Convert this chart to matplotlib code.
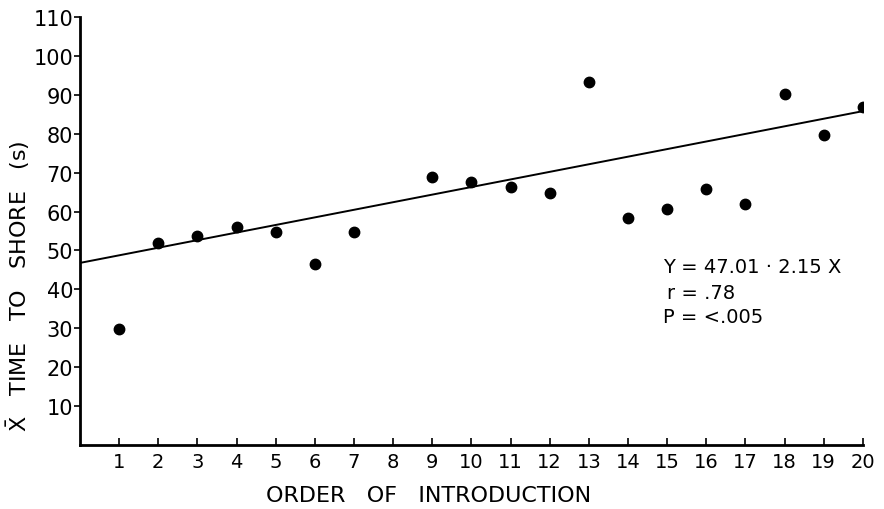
import matplotlib
matplotlib.use("Agg")
import matplotlib.pyplot as plt
import numpy as np

# Data
order = [1, 2, 3, 4, 5, 6, 7, 9, 10, 11, 12, 13, 14, 15, 16, 17, 18, 19, 20]
time_to_shore = [29.8, 51.8, 53.6, 56.0, 54.8, 46.5, 54.7, 68.9, 67.7, 66.4,
                 64.7, 93.2, 58.4, 60.7, 65.7, 62.0, 90.2, 79.8, 86.8]
line_intercept = 46.8
line_slope = 1.95
x_ticks = list(range(1, 21))
y_ticks = list(range(10, 111, 10))
stats_lines = ["Y = 47.01 \u00b7 2.15 X", "r = .78", "P = <.005"]

plt.rcParams['font.family'] = ['DejaVu Sans']
plt.rcParams['mathtext.fontset'] = 'dejavusans'

fig = plt.figure(figsize=(8.84, 5.10), dpi=100)
ax = fig.add_axes([0.0905, 0.1255, 0.8855, 0.8392])

xl = np.array([0, 20])
ax.plot(xl, line_intercept + line_slope * xl, color='black', lw=1.4,
        solid_capstyle='butt', zorder=2)
ax.plot(order, time_to_shore, 'o', color='black', markersize=7.5, zorder=3)

ax.set_xlim(0, 20)
ax.set_ylim(0, 110)
for s in ['top', 'right']:
    ax.spines[s].set_visible(False)
for s in ['left', 'bottom']:
    ax.spines[s].set_linewidth(2)

ax.set_xticks(x_ticks)
ax.set_xticklabels([str(t) for t in x_ticks], fontsize=14)
ax.set_yticks(y_ticks)
ax.set_yticklabels([str(t) for t in y_ticks], fontsize=15)
ax.tick_params(axis='x', direction='in', length=5, width=1.2, pad=5)
ax.tick_params(axis='y', direction='out', length=4, width=1.2, pad=1)

fig.text(429 / 884, 1 - 496 / 510, "ORDER   OF   INTRODUCTION", fontsize=16,
         ha='center', va='center')
fig.text(18 / 884, 1 - 286 / 510,
         r"$\bar{\mathrm{X}}$" + "   TIME   TO   SHORE   (s)",
         fontsize=16, ha='center', va='center', rotation=90)

ax.text(14.9, 45.8, stats_lines[0], fontsize=14, va='center')
ax.text(15.0, 39.1, stats_lines[1], fontsize=14, va='center')
ax.text(14.9, 32.9, stats_lines[2], fontsize=14, va='center')

fig.savefig("out.png", dpi=100)
